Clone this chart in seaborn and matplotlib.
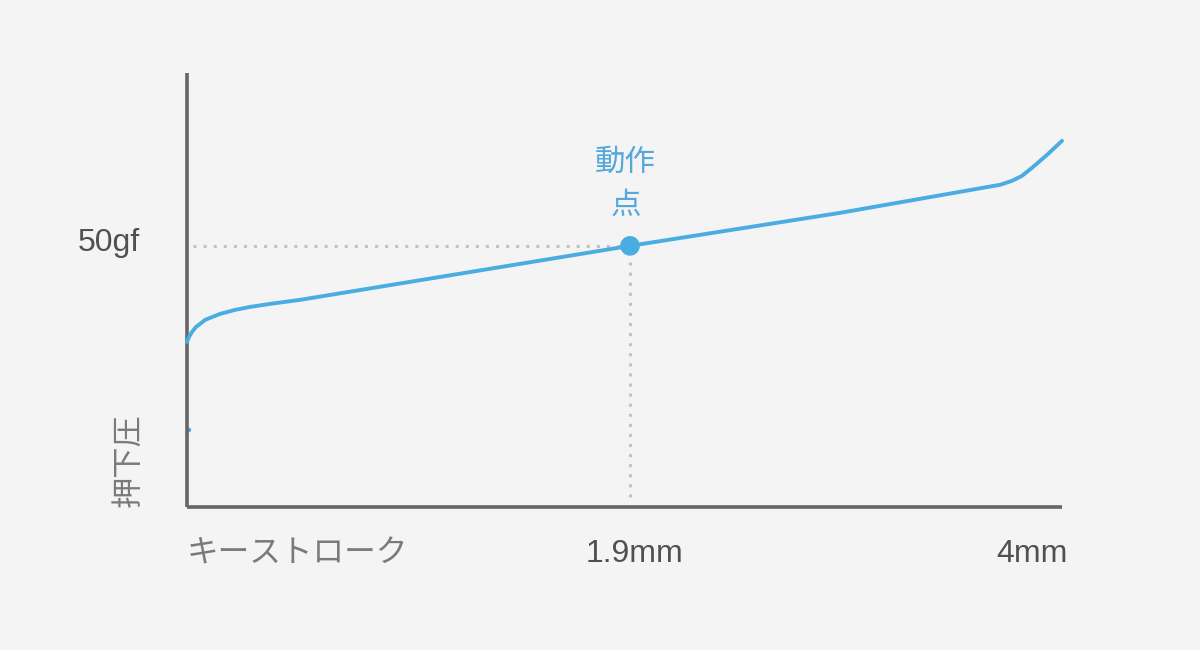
import matplotlib
matplotlib.use("Agg")
import matplotlib.pyplot as plt
import seaborn as sns
import pandas as pd

# ---- data (x: position along the stroke axis, 0-100 ; y: force in gf) ----
stroke_pos = [0.0, 0.23, 0.57, 1.03, 1.49, 2.06, 2.63, 3.77, 5.49, 7.2, 9.49, 12.91,
              50.63, 74.63, 92.91, 94.29, 95.43, 96.57, 98.29, 100.0]
force_gf = [31.61, 32.57, 33.52, 34.48, 35.06, 35.82, 36.21, 36.97, 37.74, 38.31, 38.89, 39.66,
            50.0, 56.32, 61.69, 62.45, 63.41, 64.94, 67.43, 70.11]

actuation_pos = 50.63
actuation_force = 50.0
stray_pos = [0.2]
stray_force = [14.75]

x_tick_pos = [0.0, 50.63, 100.0]
x_tick_labels = ["キーストローク", "1.9mm", "4mm"]
y_tick_label = "50gf"
y_axis_label = "押下圧"
point_label = "動作\n点"

BG = "#f4f4f4"
BLUE = "#4aade2"
AXIS = "#666666"

sns.set_theme(style="white", rc={"figure.facecolor": BG, "axes.facecolor": BG})
plt.rcParams["font.family"] = ["Liberation Sans", "Noto Sans CJK JP", "DejaVu Sans"]

fig = plt.figure(figsize=(12, 6.5), dpi=100)
ax = fig.add_axes([187 / 1200, 1 - 507 / 650, 875 / 1200, 434 / 650])

df = pd.DataFrame({"x": stroke_pos, "y": force_gf})
sns.lineplot(data=df, x="x", y="y", ax=ax, sort=False, estimator=None,
             color=BLUE, linewidth=2.8, clip_on=False, zorder=3)
line = ax.lines[-1]
line.set_solid_capstyle("round")
line.set_solid_joinstyle("round")

# dotted guides
ax.plot([0.7, actuation_pos - 1.0], [actuation_force, actuation_force],
        color="#c2c2c2", linewidth=2.2, linestyle=(0, (1, 2.3)), zorder=1)
ax.plot([actuation_pos, actuation_pos], [actuation_force - 3.0, 0.6],
        color="#c2c2c2", linewidth=2.2, linestyle=(0, (1, 2.3)), zorder=1)

sns.scatterplot(x=[actuation_pos], y=[actuation_force], ax=ax, color=BLUE,
                s=200, edgecolor="none", zorder=4, legend=False)
sns.scatterplot(x=stray_pos, y=stray_force, ax=ax, color=BLUE,
                s=12, edgecolor="none", zorder=2, legend=False, clip_on=False)

ax.set_xlim(0, 100)
ax.set_ylim(0, 83.1)
ax.set_xticks([])
ax.set_yticks([])
ax.set_xlabel("")
ax.set_ylabel("")
for s in ["top", "right"]:
    ax.spines[s].set_visible(False)
for s in ["left", "bottom"]:
    ax.spines[s].set_color(AXIS)
    ax.spines[s].set_linewidth(2.6)
    ax.spines[s].set_capstyle("butt")

# x labels
tf = ax.get_xaxis_transform()
ax.text(x_tick_pos[0], -0.108, x_tick_labels[0], transform=tf, ha="left", va="center",
        fontsize=22.8, color="#7a7a7a", family=["Noto Sans CJK JP", "DejaVu Sans"])
ax.text(x_tick_pos[1] + 0.5, -0.108, x_tick_labels[1], transform=tf, ha="center", va="center",
        fontsize=23, color="#505050")
ax.text(x_tick_pos[2] + 0.6, -0.108, x_tick_labels[2], transform=tf, ha="right", va="center",
        fontsize=23, color="#505050")

# y labels
ty = ax.get_yaxis_transform()
ax.text(-0.054, actuation_force + 0.5, y_tick_label, transform=ty, ha="right", va="center",
        fontsize=23, color="#505050")
ax.text(-0.067, 0.0, y_axis_label, transform=ty, ha="center", va="bottom", rotation=90,
        fontsize=22.5, color="#7a7a7a", family=["Noto Sans CJK JP", "DejaVu Sans"])

# actuation point label
ax.text(actuation_pos - 0.5, 61.9, point_label, ha="center", va="center", fontsize=22,
        color="#55a8da", linespacing=1.5, family=["Noto Sans CJK JP", "DejaVu Sans"])

fig.savefig("out.png", dpi=100, facecolor=BG)
